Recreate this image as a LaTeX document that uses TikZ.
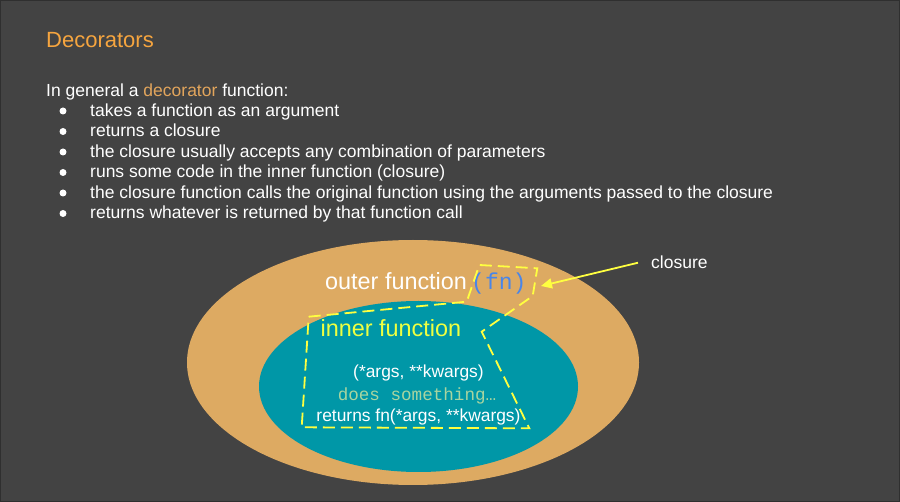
\documentclass[tikz,border=0pt]{standalone}
\usepackage{fontspec}
\setmainfont{Liberation Sans}
\newfontfamily\codefont{Liberation Mono}
\usetikzlibrary{arrows.meta}
\definecolor{slidebg}{HTML}{434343}
\definecolor{slideedge}{HTML}{2F2F2F}
\definecolor{titleorange}{HTML}{F6A53F}
\definecolor{wordorange}{HTML}{E2A55C}
\definecolor{outerfill}{HTML}{DDAA62}
\definecolor{innerfill}{HTML}{0097A7}
\definecolor{hiyellow}{HTML}{FFFF40}
\definecolor{inneryellow}{HTML}{EEFF41}
\definecolor{fnblue}{HTML}{4A86E8}
\definecolor{mutedgreen}{HTML}{A8D5A0}

\begin{document}
\begin{tikzpicture}[x=1pt,y=-1pt,
  txt/.style={inner sep=0pt, anchor=base west, text=white, font=\fontsize{17.5}{20}\selectfont},
  bigtxt/.style={inner sep=0pt, anchor=base west, font=\fontsize{23.4}{26}\selectfont},
  centertxt/.style={inner sep=0pt, anchor=base, text=white, font=\fontsize{17.4}{20}\selectfont},
  bulletdot/.style={circle, fill=white, inner sep=0pt, minimum size=7pt},
  closurebox/.style={draw=hiyellow, line width=1.8pt, dash pattern=on 12pt off 6pt, line join=miter},
  pointer/.style={draw=hiyellow, line width=1.8pt, -{Triangle[length=11pt,width=10pt]}}
]
% slide background
\fill[slidebg] (0,0) rectangle (900,502);
\draw[slideedge, line width=1pt] (0.5,0.5) rectangle (899.5,501.5);
\useasboundingbox (0,0) rectangle (900,502);

% heading and bullet list
\node[bigtxt, text=titleorange, font=\fontsize{22}{26}\selectfont] (title) at (46,47.5) {Decorators};
\node[txt] (intro) at (46,96.5) {In general a \textcolor{wordorange}{decorator} function:};

\node[bulletdot] (b1) at (63,111) {};
\node[txt] (l1) at (90,116.5) {takes a function as an argument};
\node[bulletdot] (b2) at (63,131.5) {};
\node[txt] (l2) at (90,137) {returns a closure};
\node[bulletdot] (b3) at (63,152) {};
\node[txt] (l3) at (90,157.5) {the closure usually accepts any combination of parameters};
\node[bulletdot] (b4) at (63,172.5) {};
\node[txt] (l4) at (90,178) {runs some code in the inner function (closure)};
\node[bulletdot] (b5) at (63,193) {};
\node[txt] (l5) at (90,198.5) {the closure function calls the original function using the arguments passed to the closure};
\node[bulletdot] (b6) at (63,213.5) {};
\node[txt] (l6) at (90,219) {returns whatever is returned by that function call};

% nested scopes
\fill[outerfill] (413,362.5) ellipse [x radius=226pt, y radius=122.5pt];
\fill[innerfill] (418.5,386.5) ellipse [x radius=159.5pt, y radius=85.5pt];

\node[bigtxt, text=white] (outer) at (325,289.3) {outer function};
\node[bigtxt, text=fnblue, font=\codefont\fontsize{23}{26}\selectfont] (fn) at (471,289.3) {(fn)};
\node[bigtxt, text=inneryellow] (inner) at (320.5,336.7) {inner function};

\node[centertxt] (args) at (418.5,378) {(*args, **kwargs)};
\node[centertxt, text=mutedgreen, font=\codefont\fontsize{17.6}{20}\selectfont] (work) at (417,400.5) {does something…};
\node[centertxt] (ret) at (418.5,421.8) {returns fn(*args, **kwargs)};

% closure outline
\draw[closurebox] (308.7,316.7) -- (466.7,301.7) -- (479.3,265) -- (537.3,268.3)
  -- (532.7,296) -- (481.7,331.7) -- (529.3,428.3) -- (301.7,427.3) -- cycle;

% label and pointer
\node[txt] (closure) at (651,269) {closure};
\coordinate (fnedge) at (541,286);
\draw[pointer] ([xshift=-13pt]closure.west) -- (fnedge);
\end{tikzpicture}
\end{document}
